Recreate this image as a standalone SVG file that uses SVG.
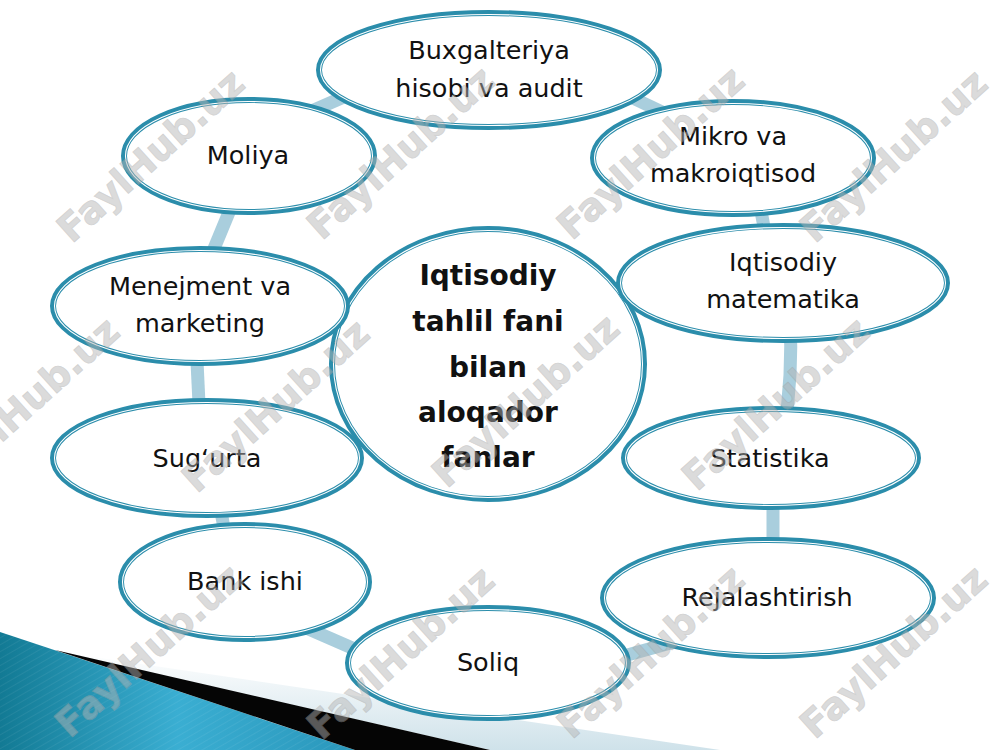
<svg xmlns="http://www.w3.org/2000/svg" width="1000" height="750" viewBox="0 0 1000 750">
<defs>
<style>
.ring{fill:none;stroke:#a9cedd;stroke-width:13;stroke-linecap:butt}
.ell{fill:#ffffff;stroke:#2b8dab;stroke-width:6}
.gap{fill:none;stroke:#ffffff;stroke-width:1.1}
.lbl{font-family:"DejaVu Sans","Liberation Sans",sans-serif;font-size:25.5px;fill:#111111;text-anchor:middle}
.ctr{font-family:"DejaVu Sans","Liberation Sans",sans-serif;font-size:28px;font-weight:bold;fill:#111111;text-anchor:middle}
.wm{font-family:"DejaVu Sans","Liberation Sans",sans-serif;font-size:38px;font-weight:bold;fill:#b5b5b5;stroke:#a0a0a0;stroke-width:0.8;opacity:0.48;text-anchor:middle}
</style>
<linearGradient id="teal" x1="0" y1="0" x2="1" y2="0">
<stop offset="0" stop-color="#127a94"/>
<stop offset="0.5" stop-color="#3aaed2"/>
<stop offset="1" stop-color="#2a97bb"/>
</linearGradient>
<linearGradient id="pale" x1="0" y1="0" x2="0" y2="1">
<stop offset="0" stop-color="#ffffff"/>
<stop offset="1" stop-color="#cfe2ea"/>
</linearGradient>
<pattern id="stripes" width="6" height="6" patternUnits="userSpaceOnUse" patternTransform="rotate(60)">
<rect width="6" height="6" fill="none"/>
<line x1="0" y1="0" x2="0" y2="6" stroke="#ffffff" stroke-width="1" stroke-opacity="0.12"/>
</pattern>
</defs>
<rect width="1000" height="750" fill="#ffffff"/>

<g id="corner">
<polygon points="60,652 720,750 490,750" fill="url(#pale)"/>
<polygon points="0,632 355,750 0,750" fill="url(#teal)"/>
<polygon points="0,632 355,750 0,750" fill="url(#stripes)"/>
<polygon points="55,650 490,750 355,750" fill="#050505"/>
</g>

<g id="connectors">
<line class="ring" x1="362" y1="89" x2="298" y2="117"/>
<line class="ring" x1="618" y1="91" x2="677" y2="119"/>
<line class="ring" x1="758" y1="195" x2="768" y2="248"/>
<path class="ring" d="M790 318 Q793 375 784 432"/>
<line class="ring" x1="773" y1="488" x2="773" y2="562"/>
<line class="ring" x1="717" y1="630" x2="588" y2="666"/>
<line class="ring" x1="288" y1="620" x2="382" y2="661"/>
<line class="ring" x1="219" y1="500" x2="227" y2="545"/>
<line class="ring" x1="196" y1="340" x2="200" y2="425"/>
<line class="ring" x1="206" y1="268" x2="237" y2="193"/>
</g>

<g id="center">
<ellipse class="ell" cx="488" cy="364" rx="156" ry="135"/>
<ellipse class="gap" cx="488" cy="364" rx="154.5" ry="133.5"/>
<text class="ctr" x="488" y="285">Iqtisodiy</text>
<text class="ctr" x="488" y="331">tahlil fani</text>
<text class="ctr" x="488" y="377">bilan</text>
<text class="ctr" x="488" y="422">aloqador</text>
<text class="ctr" x="488" y="467">fanlar</text>
</g>

<g id="buxgalteriya">
<ellipse class="ell" cx="489" cy="70" rx="170" ry="57"/>
<ellipse class="gap" cx="489" cy="70" rx="168.5" ry="55.5"/>
<text class="lbl" x="489" y="59">Buxgalteriya</text>
<text class="lbl" x="489" y="97">hisobi va audit</text>
</g>

<g id="moliya">
<ellipse class="ell" cx="249" cy="156" rx="125" ry="56"/>
<ellipse class="gap" cx="249" cy="156" rx="123.5" ry="54.5"/>
<text class="lbl" x="248" y="164">Moliya</text>
</g>

<g id="mikro">
<ellipse class="ell" cx="733" cy="158" rx="140" ry="56"/>
<ellipse class="gap" cx="733" cy="158" rx="138.5" ry="54.5"/>
<text class="lbl" x="733" y="145">Mikro va</text>
<text class="lbl" x="733" y="182">makroiqtisod</text>
</g>

<g id="iqtisodiy-matematika">
<ellipse class="ell" cx="783" cy="283" rx="164" ry="57"/>
<ellipse class="gap" cx="783" cy="283" rx="162.5" ry="55.5"/>
<text class="lbl" x="783" y="271">Iqtisodiy</text>
<text class="lbl" x="783" y="308">matematika</text>
</g>

<g id="menejment">
<ellipse class="ell" cx="200" cy="306" rx="147" ry="57"/>
<ellipse class="gap" cx="200" cy="306" rx="145.5" ry="55.5"/>
<text class="lbl" x="200" y="295">Menejment va</text>
<text class="lbl" x="200" y="332">marketing</text>
</g>

<g id="sugurta">
<ellipse class="ell" cx="207" cy="458" rx="154" ry="57"/>
<ellipse class="gap" cx="207" cy="458" rx="152.5" ry="55.5"/>
<text class="lbl" x="207" y="467">Sug‘urta</text>
</g>

<g id="statistika">
<ellipse class="ell" cx="771" cy="458" rx="147" ry="49"/>
<ellipse class="gap" cx="771" cy="458" rx="145.5" ry="47.5"/>
<text class="lbl" x="770" y="467">Statistika</text>
</g>

<g id="bank">
<ellipse class="ell" cx="245" cy="582" rx="124" ry="57"/>
<ellipse class="gap" cx="245" cy="582" rx="122.5" ry="55.5"/>
<text class="lbl" x="245" y="590">Bank ishi</text>
</g>

<g id="rejalashtirish">
<ellipse class="ell" cx="768" cy="598" rx="165" ry="58"/>
<ellipse class="gap" cx="768" cy="598" rx="163.5" ry="56.5"/>
<text class="lbl" x="767" y="606">Rejalashtirish</text>
</g>

<g id="soliq">
<ellipse class="ell" cx="488" cy="663" rx="140" ry="55"/>
<ellipse class="gap" cx="488" cy="663" rx="138.5" ry="53.5"/>
<text class="lbl" x="488" y="671">Soliq</text>
</g>

<g id="watermarks">
<text class="wm" transform="translate(150,155) rotate(-42)" y="14">FaylHub.uz</text>
<text class="wm" transform="translate(400,152) rotate(-42)" y="14">FaylHub.uz</text>
<text class="wm" transform="translate(650,152) rotate(-42)" y="14">FaylHub.uz</text>
<text class="wm" transform="translate(893,155) rotate(-42)" y="14">FaylHub.uz</text>
<text class="wm" transform="translate(25,403) rotate(-42)" y="14">FaylHub.uz</text>
<text class="wm" transform="translate(275,405) rotate(-42)" y="14">FaylHub.uz</text>
<text class="wm" transform="translate(525,400) rotate(-42)" y="14">FaylHub.uz</text>
<text class="wm" transform="translate(775,403) rotate(-42)" y="14">FaylHub.uz</text>
<text class="wm" transform="translate(148,650) rotate(-42)" y="14">FaylHub.uz</text>
<text class="wm" transform="translate(400,652) rotate(-42)" y="14">FaylHub.uz</text>
<text class="wm" transform="translate(650,651) rotate(-42)" y="14">FaylHub.uz</text>
<text class="wm" transform="translate(893,651) rotate(-42)" y="14">FaylHub.uz</text>
</g>
</svg>
